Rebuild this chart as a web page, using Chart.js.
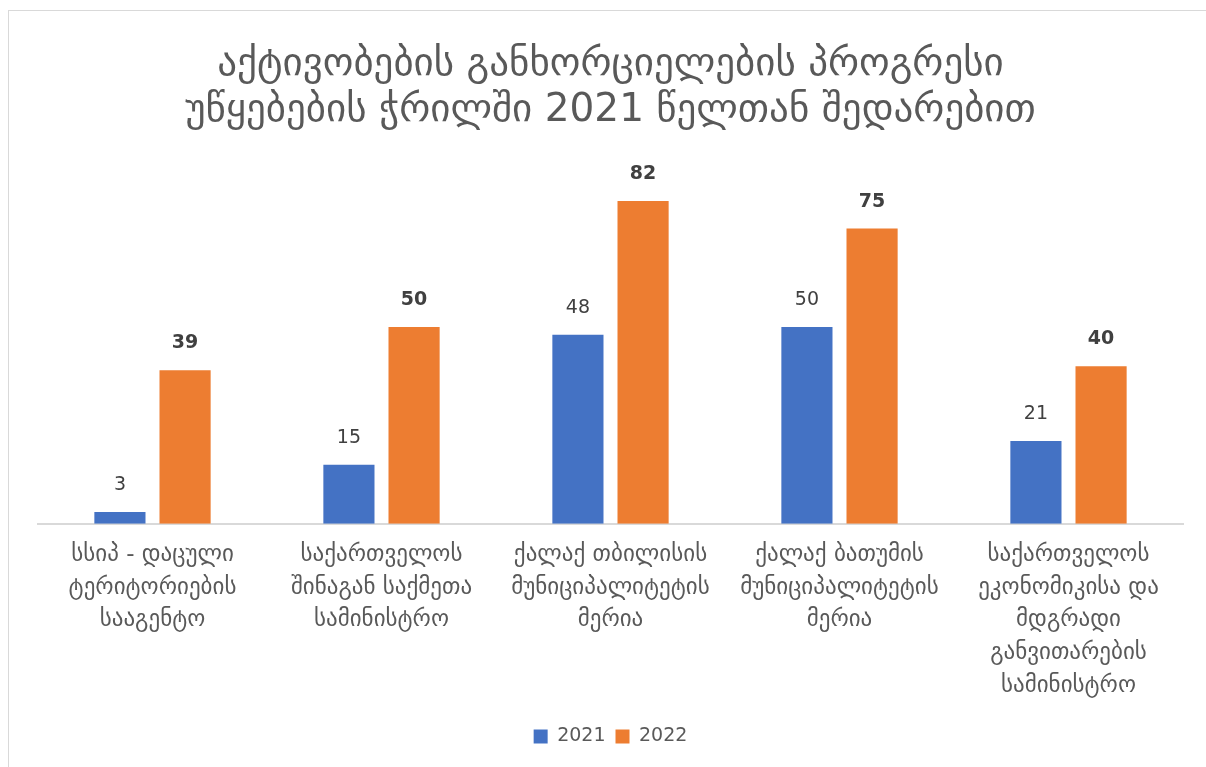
<!DOCTYPE html>
<html>
<head>
<meta charset="utf-8">
<script src="https://cdn.jsdelivr.net/npm/chart.js@4.4.1/dist/chart.umd.min.js"></script>
<style>
    html, body { margin: 0; padding: 0; background: #fff; }
    #wrap { position: relative; width: 1206px; height: 767px; overflow: hidden; }
    #frame { position: absolute; left: 8px; top: 10px; width: 1300px; height: 900px; border: 1px solid #d9d9d9; box-sizing: border-box; }
    canvas { position: absolute; left: 0; top: 0; }
</style>
</head>
<body>
<div id="wrap">
    <div id="frame"></div>
    <canvas id="mainChart" width="1206" height="767"></canvas>
</div>
<script>
// === DATOS ===
const categories = [
    ["სსიპ - დაცული", "ტერიტორიების", "სააგენტო"],
    ["საქართველოს", "შინაგან საქმეთა", "სამინისტრო"],
    ["ქალაქ თბილისის", "მუნიციპალიტეტის", "მერია"],
    ["ქალაქ ბათუმის", "მუნიციპალიტეტის", "მერია"],
    ["საქართველოს", "ეკონომიკისა და", "მდგრადი", "განვითარების", "სამინისტრო"]
];
const values2021 = [3, 15, 48, 50, 21];
const values2022 = [39, 50, 82, 75, 40];
const titleLines = ["აქტივობების განხორციელების პროგრესი", "უწყებების ჭრილში 2021 წელთან შედარებით"];

const FONT = "'DejaVu Sans', 'Noto Sans', sans-serif";

// etiquetas de valores encima de las barras
const valueLabels = {
    id: "valueLabels",
    afterDatasetsDraw(chart) {
        const ctx = chart.ctx;
        chart.data.datasets.forEach((ds, i) => {
            const meta = chart.getDatasetMeta(i);
            ctx.save();
            ctx.font = `${i === 1 ? "bold " : ""}19px ${FONT}`;
            ctx.fillStyle = "#404040";
            ctx.textAlign = "center";
            ctx.textBaseline = "middle";
            meta.data.forEach((bar, j) => {
                ctx.fillText(ds.data[j], bar.x, bar.y - 27);
            });
            ctx.restore();
        });
    }
};

new Chart(document.getElementById("mainChart"), {
    type: "bar",
    data: {
        labels: categories,
        datasets: [
            { label: "2021", data: values2021, backgroundColor: "#4472C4" },
            { label: "2022", data: values2022, backgroundColor: "#ED7D31" }
        ]
    },
    options: {
        responsive: false,
        animation: false,
        devicePixelRatio: 1,
        datasets: { bar: { categoryPercentage: 0.569, barPercentage: 0.785 } },
        layout: { padding: { left: 38, right: 23, top: 12, bottom: 11 } },
        plugins: {
            title: {
                display: true,
                text: titleLines,
                color: "#595959",
                font: { family: FONT, size: 39, weight: "normal", lineHeight: 1.2 },
                padding: { top: 29, bottom: 35 }
            },
            legend: {
                position: "bottom",
                labels: {
                    color: "#595959",
                    font: { family: FONT, size: 19 },
                    boxWidth: 14,
                    boxHeight: 14,
                    padding: 10
                }
            },
            tooltip: { enabled: false }
        },
        scales: {
            y: { display: false, min: 0, max: 90 },
            x: {
                grid: { display: false, drawTicks: false },
                border: { display: true, color: "#d9d9d9", width: 2 },
                ticks: {
                    color: "#595959",
                    font: { family: FONT, size: 23, lineHeight: 1.42 },
                    padding: 15,
                    maxRotation: 0,
                    autoSkip: false
                }
            }
        }
    },
    plugins: [valueLabels]
});
</script>
</body>
</html>
